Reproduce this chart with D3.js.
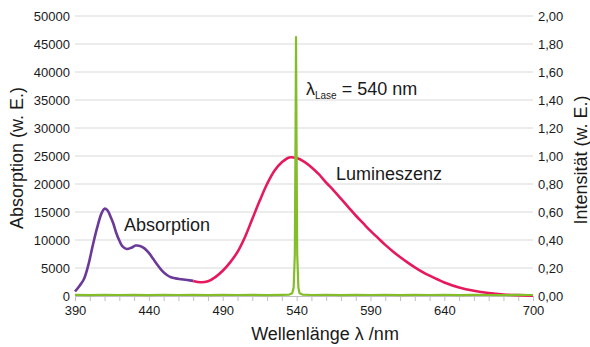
<!DOCTYPE html>
<html>
<head>
<meta charset="utf-8">
<script src="https://cdn.jsdelivr.net/npm/d3@7"></script>
<style>
  body { margin: 0; background: #fff; }
  svg text { font-family: "Liberation Sans", Arial, sans-serif; fill: #1a1a1a; }
</style>
</head>
<body>
<div id="chart"></div>
<script>
// ----------------------- Absorption / Lumineszenz

// Absorption (linke Achse, w. E.)
var absNm  = [390, 393, 396, 399, 402, 405, 408, 410, 412, 414, 416, 418, 420, 422, 425, 428, 431, 434, 437, 440, 443, 446, 449, 452, 455, 458, 462, 466, 470];
var absVal = [800, 1800, 3000, 5500, 9000, 12200, 14800, 15600, 15300, 14200, 12900, 11200, 9900, 8900, 8400, 8600, 9000, 8950, 8500, 7700, 6600, 5500, 4500, 3800, 3350, 3150, 3000, 2850, 2700];

// Lumineszenz (rechte Achse, w. E.)
var lumNm  = [470, 475, 480, 485, 490, 495, 500, 505, 510, 515, 520, 525, 530, 535, 540, 545, 550, 555, 560, 565, 570, 575, 580, 585, 590, 595, 600, 605, 610, 615, 620, 625, 630, 640, 650, 660, 670, 680, 690, 700];
var lumVal = [0.108, 0.098, 0.105, 0.135, 0.18, 0.24, 0.315, 0.42, 0.55, 0.68, 0.80, 0.895, 0.955, 0.99, 0.985, 0.96, 0.92, 0.87, 0.81, 0.755, 0.695, 0.635, 0.575, 0.52, 0.465, 0.415, 0.365, 0.32, 0.278, 0.24, 0.205, 0.173, 0.145, 0.097, 0.061, 0.037, 0.021, 0.011, 0.006, 0.003];

// Laser (rechte Achse)
var laserNm  = [390, 400, 410, 420, 430, 440, 450, 460, 470, 480, 490, 500, 510, 520, 530, 535, 537, 538, 538.8, 539.3, 539.6, 539.9, 540.4, 541.2, 542, 544, 550, 560, 570, 580, 590, 600, 610, 620, 630, 640, 650, 660, 670, 680, 690, 700];
var laserVal = [0.008, 0.006, 0.009, 0.007, 0.008, 0.006, 0.009, 0.007, 0.008, 0.006, 0.008, 0.007, 0.009, 0.006, 0.008, 0.010, 0.02, 0.06, 0.3, 1.2, 1.85, 1.2, 0.3, 0.06, 0.02, 0.010, 0.007, 0.009, 0.006, 0.008, 0.007, 0.009, 0.006, 0.008, 0.007, 0.009, 0.006, 0.008, 0.007, 0.006, 0.008, 0.007];

var xTicks = [390, 440, 490, 540, 590, 640, 700];

var svgWidth = 590;
var svgHeight = 347;
var margin = {top: 16, right: 57, bottom: 51, left: 75};
var w = svgWidth - margin.left - margin.right;
var h = svgHeight - margin.top - margin.bottom;

var svg = d3.select('#chart').append('svg')
    .attr('width', svgWidth)
    .attr('height', svgHeight);
var g = svg.append('g').attr('transform', 'translate(' + margin.left + ',' + margin.top + ')');

var x = d3.scaleLinear().domain([390, 700]).range([0, w]);
var yL = d3.scaleLinear().domain([0, 50000]).range([h, 0]);
var yR = d3.scaleLinear().domain([0, 2]).range([h, 0]);

function styleText(sel) {
    sel.selectAll('text')
        .style('font-size', '13px')
        .style('font-family', '"Liberation Sans", Arial, sans-serif')
        .attr('fill', '#1a1a1a');
}

// gridlines
g.append('g')
    .selectAll('line')
    .data(yL.ticks(10).filter(function(d) { return d > 0; }))
    .enter().append('line')
    .attr('x1', 0).attr('x2', w)
    .attr('y1', function(d) { return yL(d); })
    .attr('y2', function(d) { return yL(d); })
    .attr('stroke', '#d9d9d9')
    .attr('stroke-width', 1);

// x axis (small ticks every 10 nm)
var xAxis = g.append('g')
    .attr('transform', 'translate(0,' + h + ')')
    .call(d3.axisBottom(x).tickValues(d3.range(390, 701, 10)).tickSize(5).tickFormat(''));
xAxis.select('.domain').attr('stroke', '#bfbfbf');
xAxis.selectAll('.tick line').attr('stroke', '#bfbfbf');

g.append('g')
    .attr('transform', 'translate(0,' + h + ')')
    .call(d3.axisBottom(x).tickValues(xTicks).tickSize(0).tickPadding(10))
    .call(function(a) { a.select('.domain').remove(); })
    .call(styleText);

// left axis
g.append('g')
    .call(d3.axisLeft(yL).ticks(10).tickSize(0).tickPadding(5).tickFormat(d3.format('d')))
    .call(function(a) { a.select('.domain').remove(); })
    .call(styleText);

// right axis
g.append('g')
    .attr('transform', 'translate(' + w + ',0)')
    .call(d3.axisRight(yR).ticks(10).tickSize(0).tickPadding(5)
        .tickFormat(function(d) { return d3.format('.2f')(d).replace('.', ','); }))
    .call(function(a) { a.select('.domain').remove(); })
    .call(styleText);

// curves
var absLine = d3.line()
    .x(function(d, i) { return x(absNm[i]); })
    .y(function(d) { return yL(d); })
    .curve(d3.curveCatmullRom.alpha(0.5));
var rLine = function(nm, curve) {
    return d3.line()
        .x(function(d, i) { return x(nm[i]); })
        .y(function(d) { return yR(d); })
        .curve(curve);
};

g.append('path').datum(absVal)
    .attr('d', absLine)
    .attr('fill', 'none').attr('stroke', '#6b3a99').attr('stroke-width', 2.6);

g.append('path').datum(lumVal)
    .attr('d', rLine(lumNm, d3.curveCatmullRom.alpha(0.5)))
    .attr('fill', 'none').attr('stroke', '#e5195c').attr('stroke-width', 2.6);

g.append('path').datum(laserVal)
    .attr('d', rLine(laserNm, d3.curveLinear))
    .attr('fill', 'none').attr('stroke', '#84bd2a').attr('stroke-width', 2.2)
    .attr('stroke-linejoin', 'round');

// labels in plot
svg.append('text').attr('x', 124).attr('y', 231).style('font-size', '18px').text('Absorption');
svg.append('text').attr('x', 336).attr('y', 180).style('font-size', '18px').text('Lumineszenz');

var lt = svg.append('text').attr('x', 306).attr('y', 95).style('font-size', '18px');
lt.append('tspan').text('λ');
lt.append('tspan').attr('dy', 4).style('font-size', '10px').text('Lase');
lt.append('tspan').attr('dy', -4).text(' = 540 nm');

// axis titles
svg.append('text')
    .attr('transform', 'translate(23,158) rotate(-90)')
    .attr('text-anchor', 'middle')
    .style('font-size', '18px')
    .text('Absorption (w. E.)');

svg.append('text')
    .attr('transform', 'translate(587,160) rotate(-90)')
    .attr('text-anchor', 'middle')
    .style('font-size', '18px')
    .text('Intensität (w. E.)');

svg.append('text')
    .attr('x', 325).attr('y', 340)
    .attr('text-anchor', 'middle')
    .style('font-size', '18px')
    .text('Wellenlänge λ /nm');
</script>
</body>
</html>
